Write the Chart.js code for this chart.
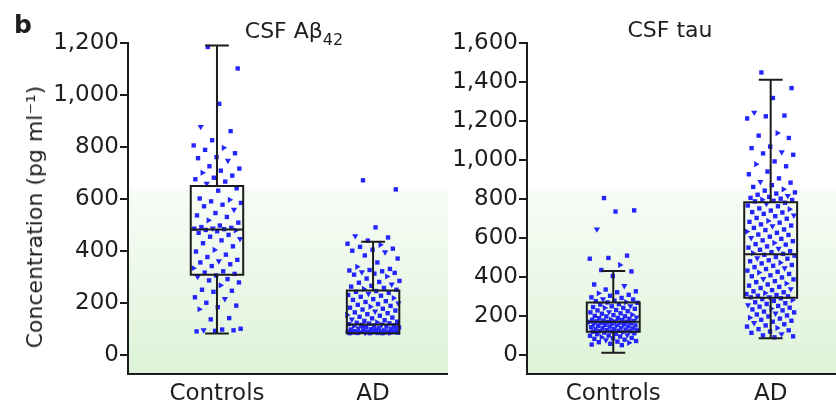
<!DOCTYPE html>
<html><head><meta charset="utf-8">
<script src="https://cdn.jsdelivr.net/npm/chart.js@4.4.1/dist/chart.umd.min.js"></script>
<style>
html,body{margin:0;padding:0;background:#fff;}
#wrap{position:relative;width:836px;height:407px;overflow:hidden;font-family:"DejaVu Sans";color:#1e1e1e;}
canvas{position:absolute;top:0;}
.lbl{position:absolute;white-space:nowrap;font-size:22px;line-height:22px;}
</style></head><body>
<div id="wrap">
<canvas id="c1" width="448" height="407" style="left:0"></canvas>
<canvas id="c2" width="388" height="407" style="left:448px"></canvas>
<div class="lbl" style="left:14px;top:12px;font-weight:bold;font-size:25px;line-height:25px">b</div>
<div class="lbl" style="left:294px;top:20px;transform:translateX(-50%)">CSF Aβ<span style="font-size:16px;position:relative;top:7px">42</span></div>
<div class="lbl" style="left:670px;top:19px;transform:translateX(-50%)">CSF tau</div>
<div class="lbl" style="left:35px;top:217px;transform:translate(-50%,-50%) rotate(-90deg)">Concentration (pg ml⁻¹)</div>
</div>
<script>
const categories = ['Controls', 'AD'];
const abTicks = [0, 200, 400, 600, 800, 1000, 1200];
const tauTicks = [0, 200, 400, 600, 800, 1000, 1200, 1400, 1600];

// CSF Abeta42 (pg/ml)
const abControls = [1185, 1102, 966, 878, 861, 826, 806, 797, 789, 776, 761, 757, 748, 726, 717, 709, 701, 690, 682, 676, 667, 659,
  641, 632, 602, 597, 591, 585, 578, 572, 559, 546, 537, 531, 518, 509, 498, 492, 489, 487, 486, 484, 481, 479,
  476, 470, 462, 455, 447, 441, 430, 418, 404, 398, 386, 377, 366, 361, 356, 349, 342, 334, 322, 317, 312, 306,
  301, 292, 287, 279, 268, 251, 247, 243, 222, 216, 201, 190, 184, 176, 142, 137, 101, 98, 96, 95, 93, 91];
const abAD = [672, 637, 491, 458, 452, 440, 428, 424, 416, 409, 405, 401, 396, 383, 371, 356, 339, 331, 327, 325, 322, 319, 316, 313,
  309, 302, 294, 285, 281, 278, 272, 266, 263, 258, 254, 251, 246, 243, 239, 236, 231, 228, 224, 219, 215, 212, 207, 204,
  199, 196, 193, 189, 186, 182, 178, 175, 171, 168, 164, 161, 157, 154, 151, 147, 144, 141, 137, 134, 131, 128, 126, 124,
  122, 121, 119, 118, 116, 114, 113, 111, 109, 108, 106, 104, 103, 101, 99, 98, 96, 95, 93, 92, 91, 90, 90, 89, 89, 88,
  88, 88, 87, 87, 86, 86, 85, 85, 85, 84, 84, 84, 112, 105, 97, 92, 89, 87];
// CSF tau (pg/ml)
const tauControls = [805, 742, 736, 645, 510, 498, 494, 462, 436, 429, 405, 362, 355, 336, 327, 322, 317, 309, 304, 296, 293, 287,
  285, 279, 276, 272, 270, 268, 261, 259, 252, 250, 246, 242, 242, 237, 231, 229, 225, 221, 219, 214, 212, 207, 205, 201,
  199, 198, 194, 190, 189, 186, 182, 181, 180, 177, 175, 173, 173, 171, 170, 169, 166, 166, 163, 161, 158, 158, 155, 152,
  151, 149, 147, 146, 143, 140, 139, 137, 134, 133, 131, 128, 127, 125, 124, 122, 121, 120, 117, 115, 112, 109, 107, 103,
  100, 99, 95, 92, 88, 86, 83, 79, 77, 72, 69, 66, 63, 58, 54, 51];
const tauAD = [1449, 1369, 1318, 1244, 1228, 1224, 1213, 1138, 1125, 1113, 1069, 1061, 1041, 1034, 1027, 993, 979, 968, 941, 927,
  906, 889, 884, 871, 862, 850, 843, 834, 828, 822, 817, 811, 806, 802, 797, 795, 791, 788,
  781, 776, 767, 763, 752, 748, 741, 733, 731, 724, 716, 712, 703, 699, 688, 683, 679, 670, 664, 661, 652, 644, 641, 633,
  627, 618, 616, 607, 601, 596, 588, 584, 575, 569, 566, 557, 551, 546, 540, 533, 528, 523, 519,
  514, 510, 503, 497, 494, 486, 481, 474, 470, 462, 458, 451, 446, 441, 433, 427, 423, 416, 409, 404, 398, 391, 388, 379,
  374, 367, 362, 356, 350, 344, 339, 333, 327, 322, 318, 313, 308, 304, 301, 298, 296,
  291, 287, 282, 278, 271, 266, 262, 257, 252, 248, 243, 238, 234, 229, 223, 219, 214, 208, 203, 198, 192, 187, 181, 176,
  171, 165, 158, 152, 146, 139, 133, 127, 121, 114, 108, 101, 96, 91];

// box stats: [whisker low, Q1, median, Q3, whisker high]
const abBoxes = [[83, 309, 483, 650, 1190], [84, 84, 117, 248, 436]];
const tauBoxes = [[12, 120, 171, 270, 431], [86, 294, 517, 784, 1412]];

const FONT = {family: 'DejaVu Sans', size: 23};
const INK = '#1c1c1c';
const TXT = '#1e1e1e';
const DOT = '#2424ff';

function jit(i) { return ((i * 0.6180339887 + 0.31) % 1) * 2 - 1; }
function fmt(v) { return String(v).replace(/\B(?=(\d{3})+(?!\d))/g, ','); }

const bgPlugin = {
  id: 'bg',
  beforeDraw(chart) {
    const {ctx, chartArea: a} = chart;
    const g = ctx.createLinearGradient(0, a.top, 0, a.bottom);
    g.addColorStop(0, '#ffffff');
    g.addColorStop(0.43, '#ffffff');
    g.addColorStop(0.45, '#f8fcf7');
    g.addColorStop(1, '#ddf3d7');
    ctx.save();
    ctx.fillStyle = g;
    ctx.fillRect(a.left, a.top, a.right - a.left, a.bottom - a.top);
    ctx.restore();
  }
};

const boxPlugin = {
  id: 'boxes',
  afterDatasetsDraw(chart, args, opts) {
    const {ctx} = chart;
    const xs = chart.scales.x, ys = chart.scales.y;
    ctx.save();
    ctx.strokeStyle = INK;
    ctx.lineWidth = 2;
    opts.boxes.forEach((b, i) => {
      const c = i + 1;
      const xl = xs.getPixelForValue(c - 0.168), xr = xs.getPixelForValue(c + 0.168);
      const cl = xs.getPixelForValue(c - 0.076), cr = xs.getPixelForValue(c + 0.076);
      const xc = xs.getPixelForValue(c);
      const [lo, q1, md, q3, hi] = b.map(v => ys.getPixelForValue(v));
      ctx.beginPath();
      ctx.rect(xl, q3, xr - xl, q1 - q3);
      ctx.moveTo(xl, md); ctx.lineTo(xr, md);
      ctx.moveTo(xc, q3); ctx.lineTo(xc, hi);
      ctx.moveTo(cl, hi); ctx.lineTo(cr, hi);
      ctx.moveTo(xc, q1); ctx.lineTo(xc, lo);
      ctx.moveTo(cl, lo); ctx.lineTo(cr, lo);
      ctx.stroke();
    });
    ctx.restore();
  }
};

function makeChart(id, groups, boxes, yMin, yMax, yTicks, xMin, xMax, yWidth, spread) {
  const datasets = groups.map((vals, g) => ({
    data: vals.map((v, i) => ({x: g + 1 + jit(i) * spread[g], y: v})),
    backgroundColor: DOT,
    pointBorderWidth: 0,
    pointRadius: ctx => (ctx.dataIndex % 9 === 3 || ctx.dataIndex % 9 === 7) ? 3.6 : 3.1,
    pointStyle: ctx => (ctx.dataIndex % 9 === 3 || ctx.dataIndex % 9 === 7) ? 'triangle' : 'rect',
    pointRotation: ctx => ctx.dataIndex % 9 === 3 ? 180 : (ctx.dataIndex % 9 === 7 ? 90 : 0),
    clip: false
  }));
  return new Chart(document.getElementById(id), {
    type: 'scatter',
    data: {datasets},
    options: {
      responsive: false, maintainAspectRatio: false, animation: false, devicePixelRatio: 1,
      layout: {autoPadding: false, padding: {left: 0, top: 43, right: 0, bottom: 0}},
      plugins: {legend: {display: false}, tooltip: {enabled: false}, boxes: {boxes}},
      scales: {
        x: {
          type: 'linear', min: xMin, max: xMax,
          afterBuildTicks: s => { s.ticks = [{value: 1}, {value: 2}]; },
          afterFit: s => { s.height = 33; s.paddingLeft = 0; s.paddingRight = 0; },
          ticks: {callback: (v, i) => categories[i], font: FONT, color: TXT, padding: 6, maxRotation: 0, autoSkip: false},
          grid: {display: false, drawTicks: false},
          border: {display: true, color: INK, width: 2}
        },
        y: {
          type: 'linear', min: yMin, max: yMax,
          afterBuildTicks: s => { s.ticks = yTicks.map(v => ({value: v})); },
          afterFit: s => { s.width = yWidth; s.paddingTop = 0; s.paddingBottom = 0; },
          ticks: {callback: v => fmt(v), font: FONT, color: TXT, padding: 1, autoSkip: false},
          grid: {display: true, drawOnChartArea: false, drawTicks: true, tickLength: 8, lineWidth: 2, color: INK},
          border: {display: true, color: INK, width: 2}
        }
      }
    },
    plugins: [bgPlugin, boxPlugin]
  });
}

makeChart('c1', [abControls, abAD], abBoxes, -73, 1200, abTicks, 0.43, 2.48, 128, [0.155, 0.17]);
makeChart('c2', [tauControls, tauAD], tauBoxes, -97, 1600, tauTicks, 0.452, 2.415, 79, [0.155, 0.155]);
</script>
</body></html>
